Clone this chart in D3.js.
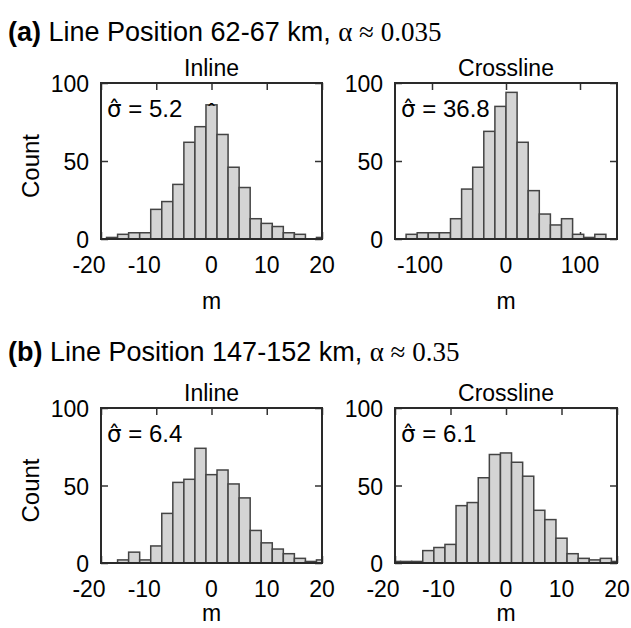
<!DOCTYPE html>
<html>
<head>
<meta charset="utf-8">
<script src="https://cdn.jsdelivr.net/npm/d3@7"></script>
<style>
  html, body { margin: 0; padding: 0; background: #fff; }
  svg { display: block; }
</style>
</head>
<body>
<svg id="chart" width="631" height="628"></svg>
<script>
// bin centres (m) and counts
const inlineBins = [-20, -18, -16, -14, -12, -10, -8, -6, -4, -2, 0, 2, 4, 6, 8, 10, 12, 14, 16, 18, 20];
const crosslineBinsA = [-142.5, -127.5, -112.5, -97.5, -82.5, -67.5, -52.5, -37.5, -22.5, -7.5,
                        7.5, 22.5, 37.5, 52.5, 67.5, 82.5, 97.5, 112.5, 127.5, 142.5];
const binWidths = [2, 15, 2, 2];

const inlineCountsA    = [0, 1, 3, 4, 4, 19, 24, 35, 62, 72, 86, 67, 46, 33, 13, 10, 8, 4, 3, 0, 1];
const crosslineCountsA = [0, 3, 4, 4, 4, 13, 32, 46, 69, 85, 94, 62, 31, 16, 9, 13, 3, 1, 3, 0];
const inlineCountsB    = [0, 0, 2, 7, 2, 11, 32, 52, 54, 74, 57, 60, 51, 42, 21, 13, 9, 6, 3, 1, 2];
const crosslineCountsB = [1, 1, 1, 8, 10, 12, 37, 39, 55, 70, 71, 65, 56, 34, 28, 16, 6, 3, 2, 3, 1];

const xDomainInline = [-20, 20];
const xDomainCrossA = [-150, 150];
const xTicksInline = [-20, -10, 0, 10, 20];
const xTicksCrossA = [-100, 0, 100];
const yTicks = [0, 50, 100];

const panelTitles = ['Inline', 'Crossline', 'Inline', 'Crossline'];
const sigmaValues = ['5.2', '36.8', '6.4', '6.1'];
const rowLabels = ['(a)', '(b)'];
const rowText = ['Line Position 62-67 km,', 'Line Position 147-152 km,'];
const rowAlpha = ['\u03B1 \u2248 0.035', '\u03B1 \u2248 0.35'];

const sans = "'Liberation Sans', Arial, Helvetica, sans-serif";
const serif = "'Liberation Serif', 'Times New Roman', serif";

const panels = [
    { row: 0, col: 0, bins: inlineBins,     counts: inlineCountsA,    domain: xDomainInline, ticks: xTicksInline },
    { row: 0, col: 1, bins: crosslineBinsA, counts: crosslineCountsA, domain: xDomainCrossA, ticks: xTicksCrossA },
    { row: 1, col: 0, bins: inlineBins,     counts: inlineCountsB,    domain: xDomainInline, ticks: xTicksInline },
    { row: 1, col: 1, bins: inlineBins,     counts: crosslineCountsB, domain: xDomainInline, ticks: xTicksInline }
];

// frame geometry
const colX = [[101, 322], [395, 617]];
const rowY = [[83, 239], [408, 563]];
const titleY = [41, 361];
const tickLabelDy = [34, 34];
const mLabelDy = [70, 58];

const svg = d3.select('#chart');

rowLabels.forEach((lab, r) => {
    const t = svg.append('text')
        .attr('x', 8)
        .attr('y', titleY[r])
        .style('font-family', sans)
        .style('font-size', '27px')
        .style('fill', '#000');
    t.append('tspan').style('font-weight', 'bold').text(lab);
    t.append('tspan').text(' ' + rowText[r] + ' ');
    t.append('tspan').style('font-family', serif).text(rowAlpha[r]);
});

panels.forEach((p, i) => {
    const [x0, x1] = colX[p.col];
    const [y0, y1] = rowY[p.row];

    const x = d3.scaleLinear().domain(p.domain).range([x0, x1]);
    const y = d3.scaleLinear().domain([0, 100]).range([y1, y0]);

    const g = svg.append('g');

    const clipId = 'clip' + i;
    svg.append('clipPath').attr('id', clipId)
        .append('rect')
        .attr('x', x0).attr('y', y0)
        .attr('width', x1 - x0).attr('height', y1 - y0);

    // inward ticks on all four sides
    const tickLen = 7;
    const axes = [
        [d3.axisBottom(x).tickValues(p.ticks), `translate(0,${y1})`],
        [d3.axisTop(x).tickValues(p.ticks), `translate(0,${y0})`],
        [d3.axisLeft(y).tickValues(yTicks), `translate(${x0},0)`],
        [d3.axisRight(y).tickValues(yTicks), `translate(${x1},0)`]
    ];
    axes.forEach(([ax, tr]) => {
        const a = g.append('g')
            .attr('transform', tr)
            .call(ax.tickSize(-tickLen).tickFormat(''));
        a.select('.domain').remove();
        a.selectAll('line').attr('stroke', '#333').attr('stroke-width', 1.5);
    });

    const w = binWidths[i];
    const data = p.bins.map((c, k) => ({ c, n: p.counts[k] }));

    g.append('g')
        .attr('clip-path', `url(#${clipId})`)
        .selectAll('rect')
        .data(data)
        .enter().append('rect')
        .attr('x', d => x(d.c - w / 2))
        .attr('width', d => x(d.c + w / 2) - x(d.c - w / 2))
        .attr('y', d => y(d.n))
        .attr('height', d => y(0) - y(d.n))
        .attr('fill', '#d4d4d4')
        .attr('stroke', '#444')
        .attr('stroke-width', 1.5);

    // frame
    g.append('rect')
        .attr('x', x0).attr('y', y0)
        .attr('width', x1 - x0).attr('height', y1 - y0)
        .attr('fill', 'none')
        .attr('stroke', '#2a2a2a')
        .attr('stroke-width', 2);

    // panel title
    g.append('text')
        .attr('x', (x0 + x1) / 2)
        .attr('y', y0 - 7)
        .attr('text-anchor', 'middle')
        .style('font-family', sans)
        .style('font-size', '23px')
        .text(panelTitles[i]);

    // sigma-hat annotation
    const st = g.append('text')
        .attr('x', x0 + 6).attr('y', y0 + 34)
        .style('font-family', sans)
        .style('font-size', '24px');
    st.append('tspan').style('font-family', "'DejaVu Sans', sans-serif").style('font-size', '23px').text('\u03C3\u0302');
    st.append('tspan').text(' = ' + sigmaValues[i]);

    // y tick labels
    g.selectAll('.ylab')
        .data(yTicks)
        .enter().append('text')
        .attr('x', x0 - 12)
        .attr('y', d => y(d) + 9)
        .attr('text-anchor', 'end')
        .style('font-family', sans)
        .style('font-size', '23px')
        .text(d => d);

    // x tick labels (minus sign hangs to the left)
    g.selectAll('.xlab')
        .data(p.ticks)
        .enter().append('text')
        .attr('x', d => x(d) + (d < 0 ? -12 : 0))
        .attr('y', y1 + tickLabelDy[p.row])
        .attr('text-anchor', 'middle')
        .style('font-family', sans)
        .style('font-size', '23px')
        .text(d => d);

    g.append('text')
        .attr('x', (x0 + x1) / 2)
        .attr('y', y1 + mLabelDy[p.row])
        .attr('text-anchor', 'middle')
        .style('font-family', sans)
        .style('font-size', '23px')
        .text('m');

    if (p.col === 0) {
        const cy = (y0 + y1) / 2 + 5;
        g.append('text')
            .attr('transform', `translate(39,${cy}) rotate(-90)`)
            .attr('text-anchor', 'middle')
            .style('font-family', sans)
            .style('font-size', '24px')
            .text('Count');
    }
});

// stray circumflex above the peak bar in (a) Inline, as in the original figure
{
    const x = d3.scaleLinear().domain(xDomainInline).range(colX[0]);
    const y = d3.scaleLinear().domain([0, 100]).range([rowY[0][1], rowY[0][0]]);
    svg.append('text')
        .attr('x', x(inlineBins[10]))
        .attr('y', y(inlineCountsA[10]) + 13)
        .attr('text-anchor', 'middle')
        .style('font-family', sans)
        .style('font-size', '20px')
        .text('\u02C6');
}
</script>
</body>
</html>
